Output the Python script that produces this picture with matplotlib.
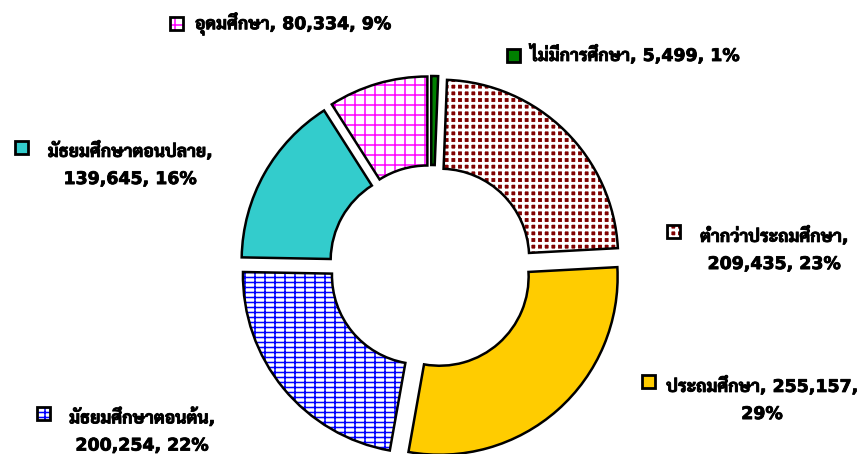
import matplotlib
matplotlib.use("Agg")
import matplotlib.pyplot as plt
import matplotlib.patheffects as pe
from matplotlib.patches import Rectangle

# education level, count, share shown on the chart
levels = ["ไม่มีการศึกษา", "ต่ำกว่าประถมศึกษา", "ประถมศึกษา",
          "มัธยมศึกษาตอนต้น", "มัธยมศึกษาตอนปลาย", "อุดมศึกษา"]
counts = [5499, 209435, 255157, 200254, 139645, 80334]
shares = [1, 23, 29, 22, 16, 9]

# where the label breaks onto a second line (after name / after count)
breaks = [None, "name", "count", "name", "name", None]

faces = ["#008000", "#800000", "#FFCC00", "white", "#33CCCC", "white"]
hatch_cols = ["#008000", "white", "#FFCC00", "#0000FF", "#33CCCC", "#FF00FF"]
hatches = [None, "+++", None, "----||", None, "++"]

DPI = 120
PT = 100 / DPI   # keep sizes tuned in 100-dpi points
hatch_lw = [1.0, 2.0, 1.0, 1.1, 1.0, 1.1]

plt.rcParams["font.family"] = ["DejaVu Sans", "Sarabun", "Noto Sans Thai Looped",
                               "Noto Sans Thai", "Anuphan", "Athiti"]

W, H = 864, 454
fig = plt.figure(figsize=(W / DPI, H / DPI), dpi=DPI)
ax = fig.add_axes([0, 0, 1, 1])


def py(y):
    return H - y


center = (431, py(267))
R, ring, gap = 178, 89, 13

# filled / hatched wedges (hatch colour follows edge colour)
wedges, _ = ax.pie(counts, radius=R, center=center, startangle=90,
                   counterclock=False, explode=[gap] * len(counts),
                   wedgeprops=dict(width=ring, linewidth=0))
for w, fc, hc, h, hl in zip(wedges, faces, hatch_cols, hatches, hatch_lw):
    w.set_facecolor(fc)
    w.set_edgecolor(hc)
    w.set_linewidth(0)
    if h:
        w.set_hatch(h)
        if hasattr(w, "set_hatch_linewidth"):
            w.set_hatch_linewidth(hl * PT)

# black outlines on top
outl, _ = ax.pie(counts, radius=R, center=center, startangle=90,
                 counterclock=False, explode=[gap] * len(counts),
                 wedgeprops=dict(width=ring, facecolor="none",
                                 edgecolor="black", linewidth=1.8 * PT))

# label layout: (text x, text y, align, key x, key y)
lab_pos = [
    (530, 55, "left", 513, 55),
    (774, 250, "center", 673, 231),
    (762, 400, "center", 648, 381),
    (142, 431, "center", 43, 413),
    (130, 165, "center", 21, 147),
    (195, 24, "left", 176, 23),
]

stroke = [pe.withStroke(linewidth=0.6 * PT, foreground="black")]
for i, (name, n, s, b) in enumerate(zip(levels, counts, shares, breaks)):
    sep1 = ",\n" if b == "name" else ", "
    sep2 = ",\n" if b == "count" else ", "
    txt = f"{name}{sep1}{n:,}{sep2}{s}%"
    tx, ty, ha, kx, ky = lab_pos[i]
    ax.text(tx, py(ty), txt, ha=ha, va="center", multialignment="center",
            fontsize=12.5 * PT, fontweight="bold", linespacing=1.65,
            color="black", path_effects=stroke)
    k = 6.5
    bg = Rectangle((kx - k, py(ky) - k), 2 * k, 2 * k, facecolor=faces[i],
                   linewidth=0, zorder=2.8)
    ax.add_patch(bg)
    if hatches[i]:
        kh = Rectangle((kx - k, py(ky) - k), 2 * k, 2 * k, facecolor="none",
                       edgecolor=hatch_cols[i], linewidth=0, hatch=hatches[i],
                       zorder=2.9)
        if hasattr(kh, "set_hatch_linewidth"):
            kh.set_hatch_linewidth(hatch_lw[i] * PT)
        ax.add_patch(kh)
    key = Rectangle((kx - k, py(ky) - k), 2 * k, 2 * k, facecolor="none",
                    edgecolor="black", linewidth=2.0 * PT, zorder=3)
    ax.add_patch(key)

ax.set_xlim(0, W)
ax.set_ylim(0, H)
ax.set_aspect("auto")
ax.axis("off")

fig.savefig("out.png", dpi=DPI)
